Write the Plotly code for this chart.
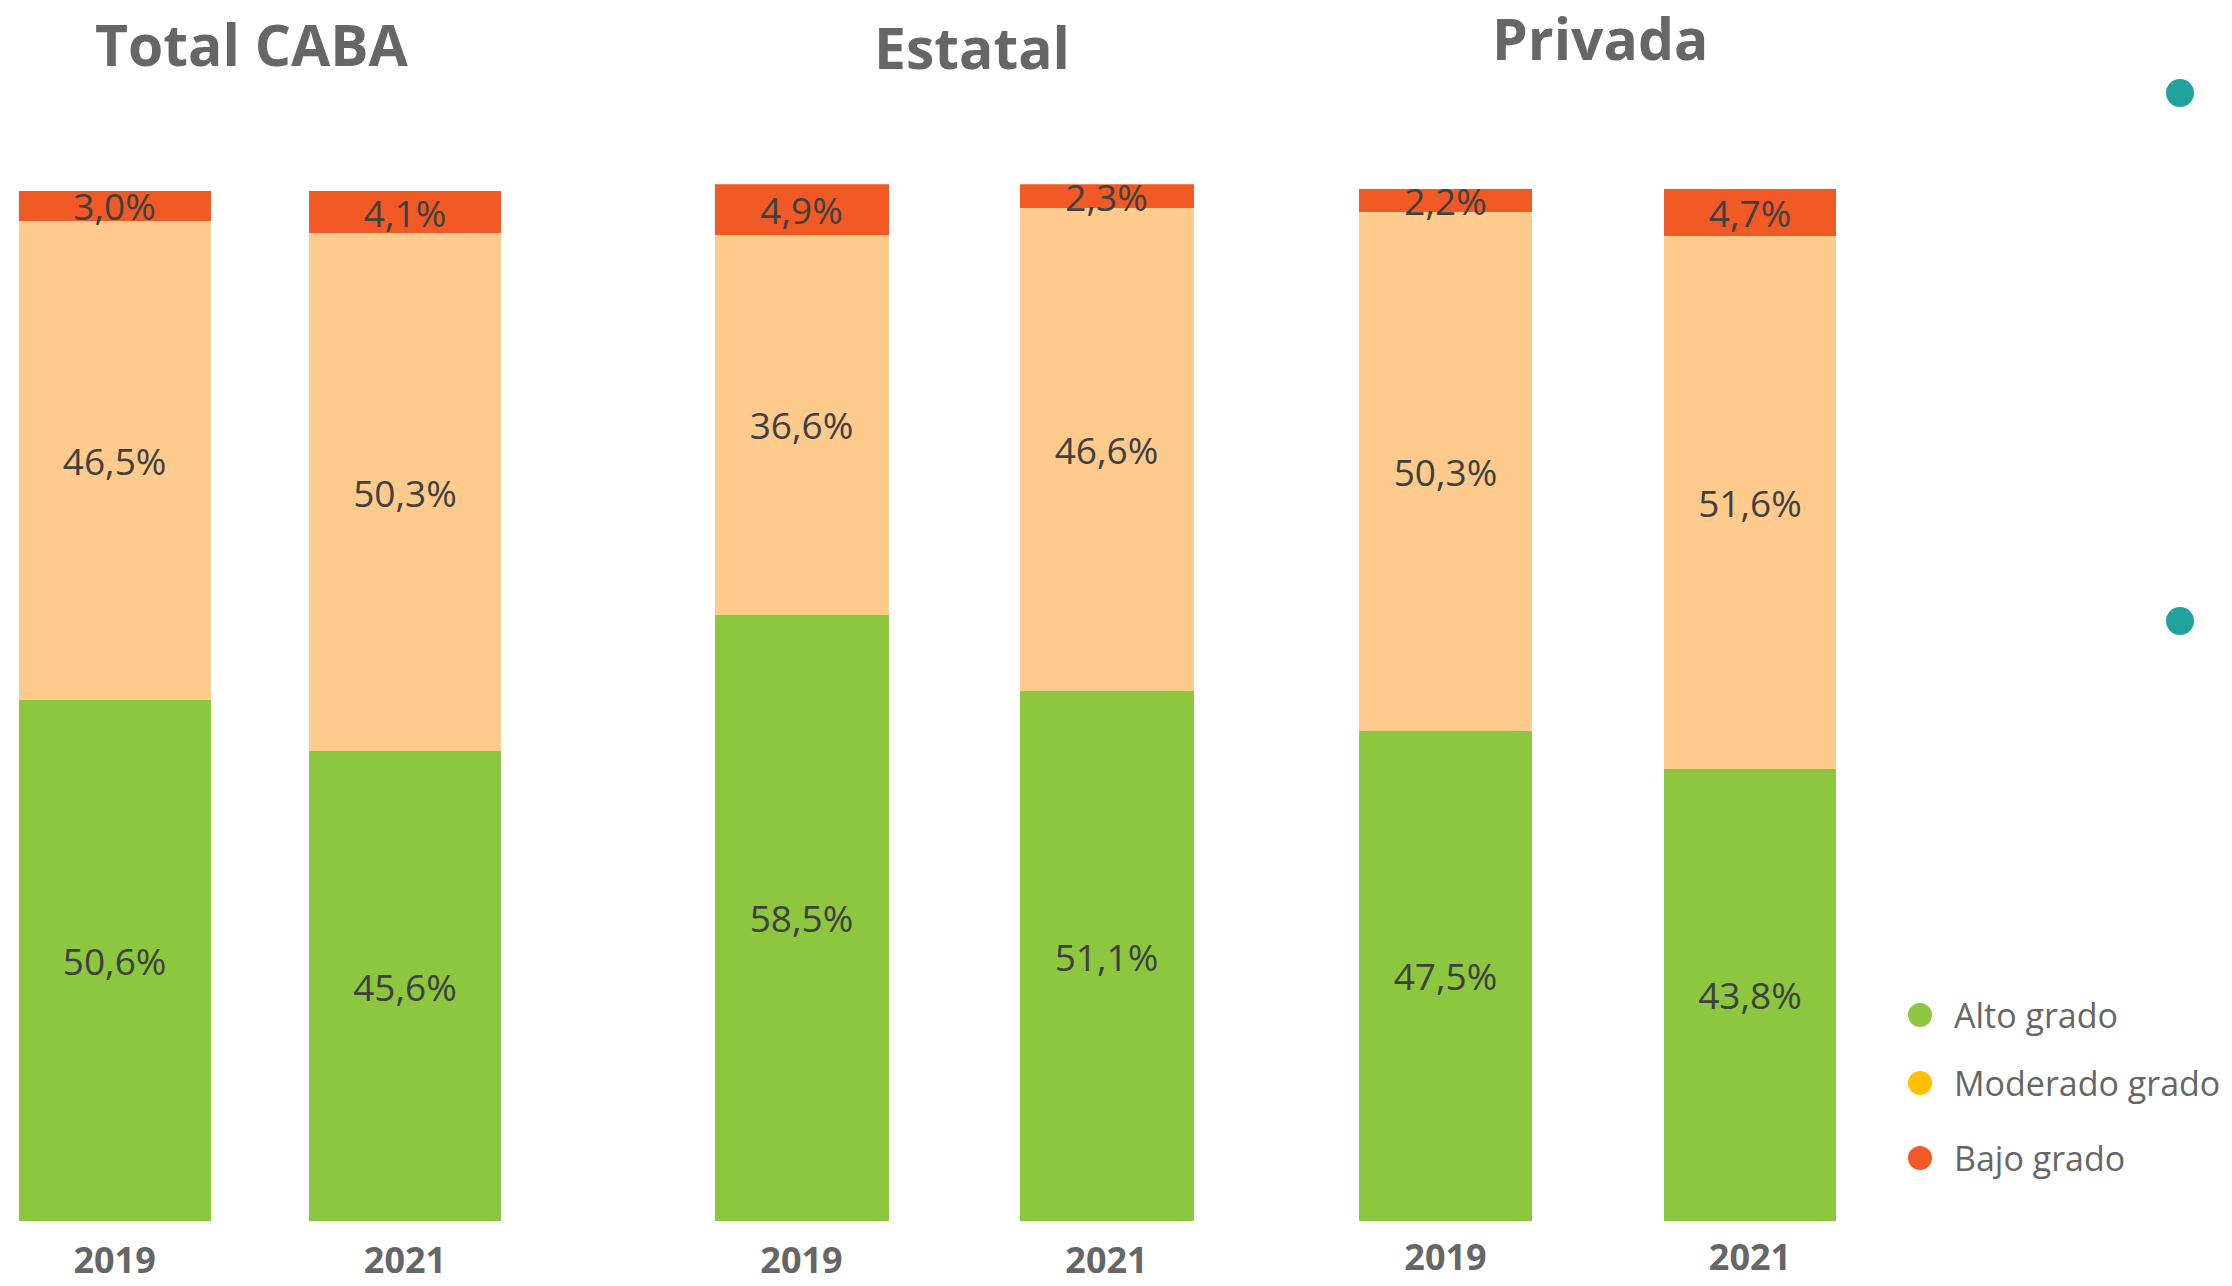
import plotly.graph_objects as go

# data
years = ['2019', '2021']
panel_titles = ['Total CABA', 'Estatal', 'Privada']
alto = [[50.6, 45.6], [58.5, 51.1], [47.5, 43.8]]
moderado = [[46.5, 50.3], [36.6, 46.6], [50.3, 51.6]]
bajo = [[3.0, 4.1], [4.9, 2.3], [2.2, 4.7]]
legend_names = ['Alto grado', 'Moderado grado', 'Bajo grado']

bar_colors = ['#8DC63F', '#FECB8D', '#F15A24']
legend_colors = ['#8DC63F', '#FFC000', '#F15A24']

W, H = 2232, 1286

# panel geometry (pixels)
x_domains = [(0, 600), (600, 1260), (1260, 1900)]
x_ranges = [(-0.3946, 1.6715), (-0.6607, 1.5033), (-0.6092, 1.4926)]
bar_widths = [0.661, 0.5705, 0.568]
y_tops = [191, 184.3, 189]
y_bottom = 1221
standoffs = [15, 15, 12]
title_pos = [(252, 44), (972, 47), (1600, 38)]

fig = go.Figure()

for i in range(3):
    xa = 'x' if i == 0 else f'x{i + 1}'
    ya = 'y' if i == 0 else f'y{i + 1}'
    for k, vals in enumerate([alto[i], moderado[i], bajo[i]]):
        fig.add_trace(
            go.Bar(
                x=years,
                y=vals,
                width=bar_widths[i],
                marker=dict(color=bar_colors[k], line=dict(width=0)),
                texttemplate='%{y:.1f}%',
                textposition='inside',
                insidetextanchor='middle',
                constraintext='none',
                textangle=0,
                textfont=dict(family='Open Sans', size=37, color='#404040'),
                name=legend_names[k],
                showlegend=False,
                hoverinfo='skip',
                xaxis=xa,
                yaxis=ya,
            )
        )

    key = '' if i == 0 else str(i + 1)
    fig.update_layout(**{
        f'xaxis{key}': dict(
            domain=[x_domains[i][0] / W, x_domains[i][1] / W],
            range=list(x_ranges[i]),
            type='category',
            categoryorder='array',
            categoryarray=years,
            anchor=ya,
            showgrid=False,
            zeroline=False,
            showline=False,
            ticks='',
            ticklabelstandoff=standoffs[i],
            tickfont=dict(family='Open Sans', size=36, color='#666666', weight='bold'),
        ),
        f'yaxis{key}': dict(
            domain=[(H - y_bottom) / H, (H - y_tops[i]) / H],
            range=[0, 100],
            anchor=xa,
            showgrid=False,
            zeroline=False,
            showline=False,
            showticklabels=False,
        ),
    })

    fig.add_annotation(
        text=panel_titles[i],
        x=title_pos[i][0] / W, y=(H - title_pos[i][1]) / H,
        xref='paper', yref='paper',
        xanchor='center', yanchor='middle',
        showarrow=False,
        font=dict(family='Open Sans', size=57, color='#666666', weight='bold'),
    )

# legend drawn by hand to get the large round markers
legend_y = [1015, 1083, 1158]
for name, color, ly in zip(legend_names, legend_colors, legend_y):
    fig.add_shape(
        type='circle', xref='paper', yref='paper',
        xsizemode='pixel', ysizemode='pixel',
        xanchor=1920 / W, yanchor=(H - ly) / H,
        x0=-12, x1=12, y0=-12, y1=12,
        fillcolor=color, line=dict(width=0),
    )
    fig.add_annotation(
        text=name,
        x=1952 / W, y=(H - ly) / H,
        xref='paper', yref='paper',
        xanchor='left', yanchor='middle',
        showarrow=False,
        font=dict(family='Open Sans', size=34, color='#666666'),
    )

# teal decorative dots
for dy in [93, 621]:
    fig.add_shape(
        type='circle', xref='paper', yref='paper',
        xsizemode='pixel', ysizemode='pixel',
        xanchor=2180 / W, yanchor=(H - dy) / H,
        x0=-14, x1=14, y0=-14, y1=14,
        fillcolor='#21A39D', line=dict(width=0),
    )

fig.update_layout(
    barmode='stack',
    separators=',.',
    width=W,
    height=H,
    autosize=False,
    margin=dict(l=0, r=0, t=0, b=0, autoexpand=False),
    paper_bgcolor='white',
    plot_bgcolor='white',
    showlegend=False,
)

fig.write_html(
    "out.html",
    config={'displayModeBar': False},
    post_script="document.body.style.margin='0px';",
)
